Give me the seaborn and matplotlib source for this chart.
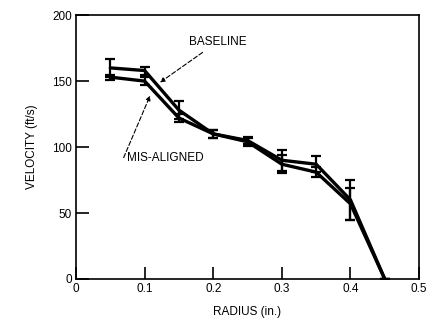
import matplotlib
matplotlib.use("Agg")
import matplotlib.pyplot as plt
import seaborn as sns
import pandas as pd

radius = [0.05, 0.10, 0.15, 0.20, 0.25, 0.30, 0.35, 0.40, 0.45]
baseline = [160, 158, 128, 110, 105, 90, 87, 60, 0]
baseline_err = [7, 3, 7, 3, 3, 8, 6, 15, 0]
misaligned = [153, 150, 122, 110, 104, 87, 81, 57, 0]
misaligned_err = [2, 3, 3, 3, 3, 7, 4, 12, 0]

x_ticks = [0, 0.1, 0.2, 0.3, 0.4, 0.5]
x_ticklabels = ["0", "0.1", "0.2", "0.3", "0.4", "0.5"]
y_ticks = [0, 50, 100, 150, 200]

df = pd.DataFrame({
    "radius": radius * 2,
    "velocity": baseline + misaligned,
    "series": ["BASELINE"] * len(radius) + ["MIS-ALIGNED"] * len(radius),
})

sns.set_style("ticks")
plt.rcParams["font.family"] = ["Liberation Sans", "DejaVu Sans"]
plt.rcParams["text.color"] = "black"
plt.rcParams["axes.labelcolor"] = "black"
plt.rcParams["xtick.color"] = "black"
plt.rcParams["ytick.color"] = "black"
plt.rcParams["axes.edgecolor"] = "black"

fig = plt.figure(figsize=(4.32, 3.29), dpi=100)
ax = fig.add_axes([0.176, 0.152, 0.794, 0.802])

sns.lineplot(data=df, x="radius", y="velocity", hue="series",
             palette=["black", "black"], linewidth=2.4, legend=False, ax=ax,
             estimator=None, sort=False)
ax.errorbar(radius, baseline, yerr=baseline_err, fmt="none", ecolor="black",
            elinewidth=1.6, capsize=3.5, capthick=1.6)
ax.errorbar(radius, misaligned, yerr=misaligned_err, fmt="none", ecolor="black",
            elinewidth=1.6, capsize=3.5, capthick=1.6)

ax.set_xlim(0, 0.5)
ax.set_ylim(0, 200)
ax.set_xticks(x_ticks)
ax.set_xticklabels(x_ticklabels)
ax.set_yticks(y_ticks)
ax.tick_params(direction="in", length=9, width=1.2, labelsize=8.5, pad=3,
               colors="black")
for s in ax.spines.values():
    s.set_linewidth(1.2)
    s.set_color("black")
    s.set_visible(True)

ax.set_xlabel("RADIUS (in.)", fontsize=8.5, labelpad=8, color="black")
ax.set_ylabel("VELOCITY (ft/s)", fontsize=8.5, labelpad=10, color="black")

ax.annotate("BASELINE", xy=(0.1224, 149), xytext=(0.165, 180),
            fontsize=8.5, va="center", ha="left", color="black",
            arrowprops=dict(arrowstyle="-|>", color="black", lw=0.8,
                            linestyle=(0, (4, 2)), shrinkA=2, shrinkB=0,
                            mutation_scale=7))
ax.annotate("MIS-ALIGNED", xy=(0.108, 139), xytext=(0.075, 92),
            fontsize=8.5, va="center", ha="left", color="black",
            arrowprops=dict(arrowstyle="-|>", color="black", lw=0.8,
                            linestyle=(0, (4, 2)), shrinkA=0, shrinkB=0,
                            mutation_scale=7,
                            relpos=(-0.05, 0.5)))

fig.savefig("out.png", dpi=100)
